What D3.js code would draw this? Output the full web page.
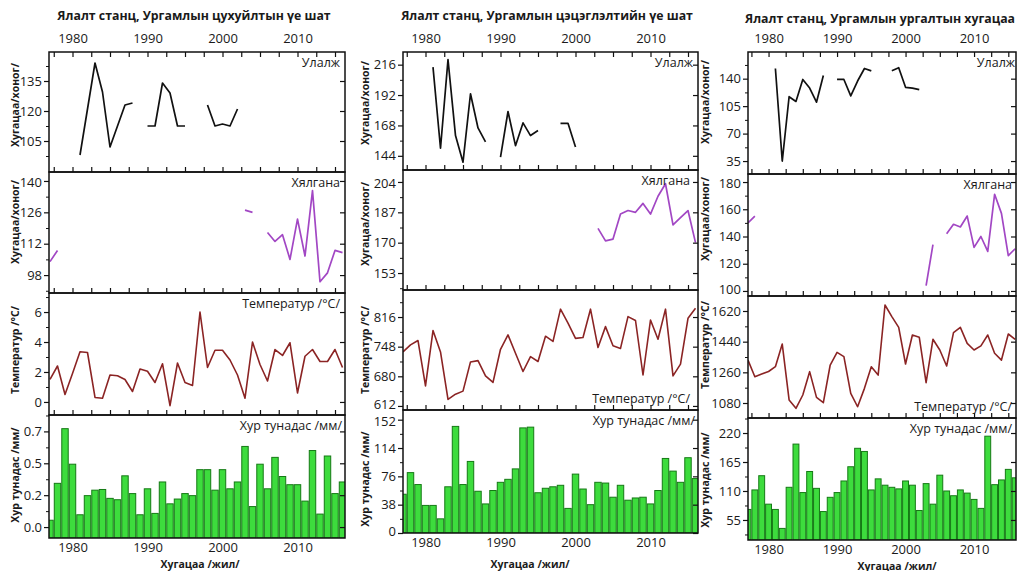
<!DOCTYPE html>
<html><head><meta charset="utf-8">
<script src="https://cdn.jsdelivr.net/npm/d3@7"></script>
<style>
body{margin:0;background:#fff}
svg{display:block}
text{font-family:'Open Sans',sans-serif;fill:#1a1a1a}
</style>
</head><body>
<svg id="c" width="1018" height="571"></svg>
<script>
// ---------------- DATA ----------------
const years = [1977,1978,1979,1980,1981,1982,1983,1984,1985,1986,1987,1988,1989,1990,1991,1992,1993,1994,1995,1996,
               1997,1998,1999,2000,2001,2002,2003,2004,2005,2006,2007,2008,2009,2010,2011,2012,2013,2014,2015,2016];
const titles = ["Ялалт станц, Ургамлын цухуйлтын үе шат","Ялалт станц, Ургамлын цэцэглэлтийн үе шат","Ялалт станц, Ургамлын ургалтын хугацаа"];
const seriesNames = ["Улалж","Хялгана","Температур /°C/","Хур тунадас /мм/"];
const yTitles = ["Хугацаа/хоног/","Хугацаа/хоног/","Температур /°C/","Хур тунадас /мм/"];
const xLabelYears = [1980,1990,2000,2010];
const xAxisTitle = "Хугацаа /жил/";
const _ = null;

// Panel 1 – цухуйлт
const p1Ulalj = [_,_,_,_,98,121,144,129.5,102,112.5,123,124,_,112.5,112.5,134,129,112.5,112.5,_,
                 _,123,112.5,113.5,112.5,121,_,_,_,_,_,_,_,_,_,_,_,_,_,_];
const p1Khyalgana = [104,109,_,_,_,_,_,_,_,_,_,_,_,_,_,_,_,_,_,_,
                     _,_,_,_,_,_,127,126,_,117,113,116,105,123,106.5,135.7,95,99,109,108];
const p1Temp = [1.5,2.4,0.5,1.9,3.35,3.3,0.3,0.25,1.8,1.75,1.5,0.7,2.2,2.05,1.3,2.55,-0.25,2.6,1.3,1.1,
                6.0,2.3,3.45,3.45,2.8,1.8,0.25,4.0,2.5,1.4,3.5,3.1,3.95,0.6,3.05,3.5,2.7,2.7,3.5,2.3];
const p1Prec = [0.05,0.32,0.72,0.46,0.09,0.23,0.27,0.275,0.21,0.2,0.375,0.245,0.09,0.28,0.10,0.33,0.17,0.205,0.245,0.23,
                0.42,0.42,0.27,0.42,0.28,0.33,0.59,0.15,0.46,0.28,0.51,0.37,0.31,0.31,0.19,0.56,0.095,0.52,0.245,0.33];
const p1UlaljTicks = [105,120,135];
const p1KhyalganaTicks = [98,112,126,140];
const p1TempTicks = [0,2,4,6];
const p1PrecTicks = [0,0.2333,0.4667,0.7];
const p1PrecTickLabels = ["0.0","0.2","0.5","0.7"];

// Panel 2 – цэцэглэлт
const p2Ulalj = [_,_,_,_,214,150,220,160,139,193,166,155,_,143,179,152,170,160,164,_,
                 _,169.7,169.7,151,_,_,_,_,_,_,_,_,_,_,_,_,_,_,_,_];
const p2Khyalgana = [_,_,_,_,_,_,_,_,_,_,_,_,_,_,_,_,_,_,_,_,
                     _,_,_,_,_,_,178,171,172,186,188,187,192,186,196,203,180,184,188,170];
const p2Temp = [736,752,762,658,785,736,627,639,646,713,716,681,666,742,775,733,691,725,714,772,
                760,834,802,767,769,834,746,794,750,744,817,808,683,809,765,834,681,708,813,836];
const p2Prec = [52,81,65,37,37,19,62,143,65,96,56,39,57,68,72,86,141,142,54,60,
                62,64,33,79,59,38,68,67,48,64,44,47,48,39,57,100,83,68,101,73];
const p2UlaljTicks = [144,168,192,216];
const p2KhyalganaTicks = [153,170,187,204];
const p2TempTicks = [612,680,748,816];
const p2PrecTicks = [0,38,76,114,152];

// Panel 3 – ургалтын хугацаа
const p3Ulalj = [_,_,_,_,153,35,117,111,139,128,110,144,_,139,139,118,137,153,150,_,
                 _,150,154,129,128,126,_,_,_,_,_,_,_,_,_,_,_,_,_,_];
const p3Khyalgana = [150,155,_,_,_,_,_,_,_,_,_,_,_,_,_,_,_,_,_,_,
                     _,_,_,_,_,_,104,134,_,142,149,147,155,132,140,129,171,157,126,131];
const p3Temp = [1332,1234,1250,1265,1293,1426,1098,1049,1127,1264,1113,1082,1303,1377,1352,1137,1058,1166,1293,1244,
                1655,1587,1524,1309,1479,1466,1199,1454,1391,1297,1493,1524,1430,1391,1415,1479,1372,1332,1485,1454];
const p3Prec = [75,112,139,85,75,39,117,199,107,147,115,71,98,107,129,156,191,185,112,133,
                121,117,114,129,121,73,124,85,140,110,101,112,106,94,77,214,122,131,151,135];
const p3UlaljTicks = [35,70,105,140];
const p3KhyalganaTicks = [100,120,140,160,180];
const p3TempTicks = [1080,1260,1440,1620];
const p3PrecTicks = [55,110,165,220];

// ---------------- LAYOUT ----------------
const panels = [
  { title: titles[0], tx: 194, ty: 20, x0: 49, x1: 345, xa: 50, step: 7.5,
    rows: [[52,172],[172,293],[293,415],[415,538]],
    domains: [[89.5,149.5],[90,144],[-0.87,7.27],[-0.08,0.82]],
    data: [p1Ulalj,p1Khyalgana,p1Temp,p1Prec],
    ticks: [p1UlaljTicks,p1KhyalganaTicks,p1TempTicks,p1PrecTicks],
    tickLabels: [null,null,null,p1PrecTickLabels],
    labPos: ['t','t','t','t'], labRight: [340,340,340,342],
    yTitleX: 15, yTitleY: [105,222,350,475],
    topY: 46, botY: 557, xtX: 200, xtY: 568 },
  { title: titles[1], tx: 547, ty: 20, x0: 403, x1: 698, xa: 403, step: 7.5,
    rows: [[52,170],[170,290],[290,410],[410,533]],
    domains: [[132.8,226],[143.5,210.7],[602.7,878],[0,165]],
    data: [p2Ulalj,p2Khyalgana,p2Temp,p2Prec],
    ticks: [p2UlaljTicks,p2KhyalganaTicks,p2TempTicks,p2PrecTicks],
    tickLabels: [null,null,null,null],
    labPos: ['t','t','b','t'], labRight: [693,690,690,695],
    yTitleX: 365, yTitleY: [103,224,350,479],
    topY: 46, botY: 553, xtX: 530, xtY: 568 },
  { title: titles[2], tx: 880, ty: 23, x0: 748, x1: 1016, xa: 748, step: 6.85,
    rows: [[52,174],[174,296],[296,418],[418,540]],
    domains: [[18.5,174],[96.3,185.9],[992,1708],[17,248.5]],
    data: [p3Ulalj,p3Khyalgana,p3Temp,p3Prec],
    ticks: [p3UlaljTicks,p3KhyalganaTicks,p3TempTicks,p3PrecTicks],
    tickLabels: [null,null,null,null],
    labPos: ['t','t','b','t'], labRight: [1015,1012,1012,1012],
    yTitleX: 705, yTitleY: [102,219,345,480],
    topY: 46, botY: 558, xtX: 897, xtY: 569.5 }
];
const lineColors = ["#111111","#a247c4","#8b2424"];
const barFill = "#3ddc3d", barStroke = "#157a15";

const svg = d3.select("#c");
const xTickVals = d3.range(1977.5, 2016.1, 2.5);

panels.forEach((P, pi) => {
  const g = svg.append("g");
  const x = d3.scaleLinear().domain([years[0], years[years.length-1]])
              .range([P.xa, P.xa + P.step*(years.length-1)]);
  g.append("text").attr("x",P.tx).attr("y",P.ty).attr("text-anchor","middle")
   .attr("font-size",12.3).attr("font-weight","bold").text(P.title);

  P.rows.forEach((r, ri) => {
    const [top, bot] = r;
    const y = d3.scaleLinear().domain(P.domains[ri]).range([bot, top]);
    const cid = `clip${pi}_${ri}`;
    g.append("clipPath").attr("id",cid).append("rect")
      .attr("x",P.x0).attr("y",top).attr("width",P.x1-P.x0).attr("height",bot-top);
    const pg = g.append("g").attr("clip-path",`url(#${cid})`);
    const vals = P.data[ri];
    if (ri === 3) {
      const bw = P.step*0.86;
      pg.selectAll("rect.bar").data(years.map((yr,i)=>({yr, v: vals[i]})))
        .join("rect").attr("class","bar")
        .attr("x", d => x(d.yr)-bw/2).attr("width", bw)
        .attr("y", d => y(d.v)).attr("height", d => y(P.domains[ri][0]) - y(d.v))
        .attr("fill",barFill).attr("stroke",barStroke).attr("stroke-width",1);
    } else {
      const line = d3.line().defined(d => d.v !== null).x(d => x(d.yr)).y(d => y(d.v));
      pg.append("path").datum(years.map((yr,i)=>({yr, v: vals[i]})))
        .attr("d", line).attr("fill","none").attr("stroke",lineColors[ri])
        .attr("stroke-width", ri===2 ? 1.6 : 1.7).attr("stroke-linejoin","round");
    }
    const tv = P.ticks[ri];
    const stepT = tv[1]-tv[0];
    const minor = [];
    for (let t = tv[0]-stepT/2; t <= tv[tv.length-1]+stepT/2+1e-9; t += stepT) {
      if (t > P.domains[ri][0] && t < P.domains[ri][1]) minor.push(t);
    }
    const labs = P.tickLabels[ri];
    const axL = d3.axisLeft(y).tickValues(tv).tickSize(5).tickPadding(2)
      .tickFormat((d,i) => labs ? labs[i] : d3.format("d")(d));
    const gl = g.append("g").attr("transform",`translate(${P.x0},0)`).call(axL);
    gl.select(".domain").remove();
    gl.selectAll("text").attr("font-size",13).attr("font-family","'Open Sans',sans-serif").attr("fill","#1a1a1a")
      .attr("dy", d => {
        const py = y(d);
        if (bot - py < 6) return "0.2em";
        if (py - top < 12) return "0.45em";
        return "0.32em";
      });
    gl.selectAll("line").attr("stroke","#111").attr("stroke-width",1.2);
    const gm = g.append("g").attr("transform",`translate(${P.x0},0)`)
      .call(d3.axisLeft(y).tickValues(minor).tickSize(3).tickFormat(""));
    gm.select(".domain").remove();
    gm.selectAll("line").attr("stroke","#111").attr("stroke-width",1);
    const gr = g.append("g").attr("transform",`translate(${P.x1},0)`)
      .call(d3.axisLeft(y).tickValues(tv).tickSize(5).tickFormat(""));
    gr.select(".domain").remove();
    gr.selectAll("line").attr("stroke","#111").attr("stroke-width",1.2);

    if (ri < 3) {
      const gb = g.append("g").attr("transform",`translate(0,${bot})`)
        .call(d3.axisTop(x).tickValues(xTickVals).tickSize(5).tickFormat(""));
      gb.select(".domain").remove();
      gb.selectAll("line").attr("stroke","#111").attr("stroke-width",1.2);
    }
    if (ri === 0) {
      const gt = g.append("g").attr("transform",`translate(0,${top})`)
        .call(d3.axisBottom(x).tickValues(xTickVals).tickSize(5).tickFormat(""));
      gt.select(".domain").remove();
      gt.selectAll("line").attr("stroke","#111").attr("stroke-width",1.2);
      const gtl = g.append("g").attr("transform",`translate(0,${top})`)
        .call(d3.axisTop(x).tickValues(xLabelYears).tickSize(0).tickPadding(9).tickFormat(d3.format("d")));
      gtl.select(".domain").remove();
      gtl.selectAll("text").attr("font-size",13).attr("font-family","'Open Sans',sans-serif").attr("fill","#1a1a1a");
    }
    if (ri === 3) {
      const gbl = g.append("g").attr("transform",`translate(0,${bot})`)
        .call(d3.axisBottom(x).tickValues(xLabelYears).tickSize(0).tickPadding(5).tickFormat(d3.format("d")));
      gbl.select(".domain").remove();
      gbl.selectAll("text").attr("font-size",13).attr("font-family","'Open Sans',sans-serif").attr("fill","#1a1a1a");
    }
    g.append("rect").attr("x",P.x0).attr("y",top).attr("width",P.x1-P.x0).attr("height",bot-top)
      .attr("fill","none").attr("stroke","#111").attr("stroke-width",1.5);
    const ly = P.labPos[ri] === 't' ? top + 15 : bot - 7;
    g.append("text").attr("x",P.labRight[ri]).attr("y",ly).attr("text-anchor","end")
      .attr("font-size",12.5).text(seriesNames[ri]);
    g.append("text").attr("transform",`translate(${P.yTitleX},${P.yTitleY[ri]}) rotate(-90)`)
      .attr("text-anchor","middle").attr("dy","0.35em")
      .attr("font-size",10.5).attr("font-weight","bold").text(yTitles[ri]);
  });
  g.append("text").attr("x",P.xtX).attr("y",P.xtY).attr("text-anchor","middle")
    .attr("font-size",10.5).attr("font-weight","bold").text(xAxisTitle);
});
</script>
</body></html>
